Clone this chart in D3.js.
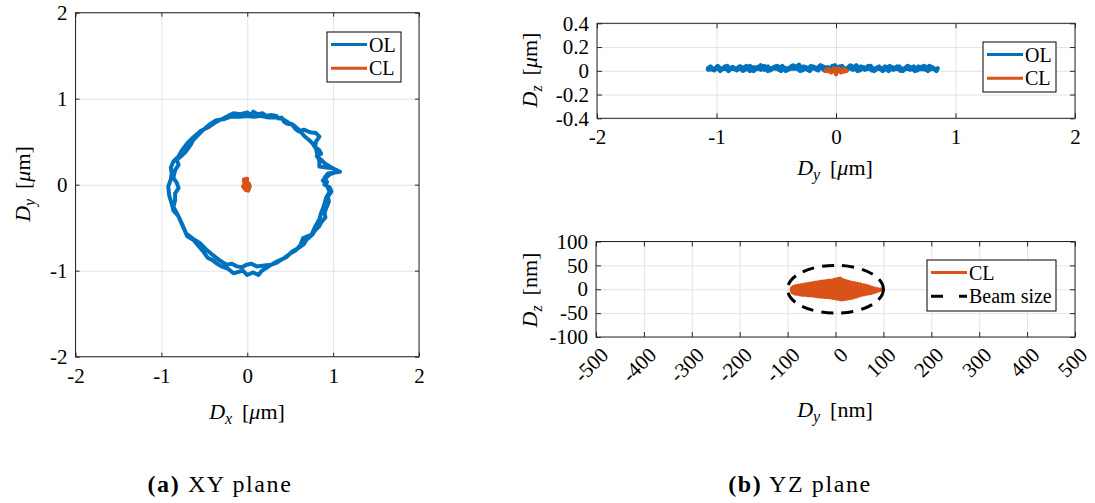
<!DOCTYPE html>
<html>
<head>
<meta charset="utf-8">
<script src="https://cdn.jsdelivr.net/npm/d3@7"></script>
<style>
  html, body { margin: 0; padding: 0; background: #fff; }
  svg { display: block; }
  svg text { font-family: 'Liberation Serif', 'Times New Roman', serif; }
</style>
</head>
<body>
<svg id="chart" width="1095" height="503"></svg>
<script>
// ---------------- DATA ----------------
// (a) XY plane, open loop trajectory [Dx, Dy] in µm (two turns)
const olXY = [
  [-0.16,0.83],[-0.08,0.82],[0,0.84],[0.04,0.81],[0.07,0.85],[0.12,0.82],[0.18,0.83],[0.22,0.80],[0.28,0.81],[0.34,0.80],[0.36,0.77],[0.40,0.78],[0.43,0.73],
  [0.46,0.71],[0.52,0.70],[0.56,0.65],[0.60,0.62],[0.66,0.64],[0.73,0.61],[0.80,0.60],[0.84,0.56],[0.80,0.50],[0.79,0.44],
  [0.84,0.40],[0.86,0.36],[0.81,0.33],[0.86,0.29],[0.90,0.25],[0.98,0.20],[1.08,0.15],[1.0,0.14],[0.94,0.13],[0.90,0.08],
  [0.93,0.03],[0.90,0.0],[0.96,-0.03],[0.98,-0.08],[0.94,-0.14],[0.95,-0.20],[0.92,-0.27],[0.90,-0.33],[0.91,-0.38],[0.86,-0.44],
  [0.84,-0.48],[0.79,-0.53],[0.76,-0.58],[0.69,-0.64],[0.66,-0.69],[0.59,-0.74],[0.52,-0.78],[0.46,-0.84],[0.40,-0.87],[0.34,-0.91],
  [0.28,-0.93],[0.22,-0.97],[0.17,-1.0],[0.13,-1.05],[0.07,-1.02],[0,-1.05],[-0.05,-1.0],[-0.09,-1.01],[-0.16,-1.03],[-0.22,-0.98],
  [-0.30,-0.95],[-0.35,-0.92],[-0.40,-0.88],[-0.46,-0.85],[-0.51,-0.78],[-0.57,-0.71],[-0.63,-0.64],[-0.70,-0.60],[-0.73,-0.53],[-0.77,-0.44],
  [-0.80,-0.37],[-0.86,-0.30],[-0.88,-0.22],[-0.91,-0.12],[-0.92,-0.02],[-0.89,0.06],[-0.88,0.13],[-0.89,0.20],[-0.86,0.27],[-0.80,0.33],
  [-0.76,0.40],[-0.70,0.48],[-0.63,0.55],[-0.55,0.62],[-0.45,0.67],[-0.38,0.72],[-0.28,0.77],[-0.22,0.80],[-0.16,0.83],
  [-0.09,0.79],[0.0,0.80],[0.07,0.79],[0.15,0.80],[0.25,0.78],[0.36,0.78],[0.42,0.76],[0.48,0.72],[0.53,0.70],[0.60,0.64],
  [0.67,0.56],[0.72,0.52],[0.76,0.48],[0.80,0.42],[0.82,0.33],[0.84,0.27],[0.84,0.21],[0.92,0.20],[1.0,0.19],[1.04,0.15],
  [0.96,0.12],[0.88,0.05],[0.92,0.0],[0.96,-0.08],[0.92,-0.15],[0.90,-0.22],[0.88,-0.28],[0.86,-0.33],[0.84,-0.40],[0.79,-0.49],
  [0.75,-0.58],[0.70,-0.60],[0.65,-0.62],[0.62,-0.70],[0.57,-0.76],[0.50,-0.80],[0.42,-0.86],[0.35,-0.89],[0.28,-0.93],[0.20,-0.94],
  [0.11,-0.95],[0.05,-0.92],[-0.01,-0.93],[-0.06,-0.96],[-0.12,-0.95],[-0.18,-0.92],[-0.24,-0.93],[-0.32,-0.88],[-0.40,-0.82],[-0.47,-0.76],
  [-0.55,-0.68],[-0.63,-0.63],[-0.71,-0.57],[-0.74,-0.50],[-0.78,-0.41],[-0.82,-0.33],[-0.86,-0.26],[-0.84,-0.18],[-0.84,-0.10],[-0.80,-0.04],
  [-0.82,0.02],[-0.86,0.08],[-0.84,0.17],[-0.80,0.23],[-0.82,0.29],[-0.76,0.34],[-0.72,0.38],[-0.66,0.46],[-0.63,0.52],[-0.57,0.58],
  [-0.51,0.64],[-0.44,0.70],[-0.36,0.75],[-0.28,0.76],[-0.20,0.79],[-0.09,0.79]
];
// (a) XY plane, closed loop [Dx, Dy] in µm
const clXY = [
  [-0.04,0.06],[0.0,0.07],[-0.01,0.03],[0.02,0.01],[0.03,-0.02],[0.01,-0.07],[-0.02,-0.06],[-0.05,-0.02],
  [-0.03,0.0],[-0.04,0.05],[0.01,0.02],[0.02,-0.05],[-0.03,-0.03],[0.0,0.0]
];
// (b) YZ plane, open loop [Dy, Dz] in µm
const olYZ = [
  [-1.07,0.02],[-1.05,0.035],[-1.02,0.01],[-0.99,0.03],[-0.97,0.0],[-0.94,0.025],[-0.91,0.04],[-0.89,0.01],[-0.86,0.03],[-0.83,0.005],
  [-0.80,0.035],[-0.78,0.02],[-0.75,0.04],[-0.72,0.0],[-0.69,0.03],[-0.66,0.015],[-0.63,0.045],[-0.60,0.01],[-0.57,0.035],[-0.55,0.005],
  [-0.52,0.03],[-0.49,0.04],[-0.46,0.0],[-0.43,0.025],[-0.40,0.01],[-0.37,0.04],[-0.34,0.02],[-0.31,0.05],[-0.28,0.005],[-0.25,0.03],
  [-0.22,0.0],[-0.19,0.035],[-0.16,0.02],[-0.13,0.045],[-0.10,0.005],[-0.07,0.03],[-0.04,0.01],[-0.01,0.045],[0.02,0.015],[0.05,0.04],
  [0.08,0.0],[0.11,0.03],[0.14,0.01],[0.17,0.045],[0.20,0.005],[0.23,0.03],[0.26,0.015],[0.29,0.04],[0.32,0.0],[0.35,0.025],
  [0.38,0.01],[0.41,0.035],[0.44,0.0],[0.47,0.03],[0.50,0.015],[0.53,0.035],[0.56,0.0],[0.59,0.03],[0.62,0.01],[0.65,0.035],
  [0.68,0.005],[0.71,0.03],[0.74,0.04],[0.77,0.0],[0.80,0.03],[0.83,0.01],[0.85,0.02],
  [0.84,0.0],[0.81,0.025],[0.78,0.04],[0.75,0.01],[0.72,0.02],[0.69,0.035],[0.66,0.0],[0.63,0.025],[0.60,0.04],[0.57,0.015],
  [0.54,0.0],[0.51,0.035],[0.48,0.01],[0.45,0.04],[0.42,0.02],[0.39,0.0],[0.36,0.035],[0.33,0.02],[0.30,0.005],[0.27,0.04],
  [0.24,0.01],[0.21,0.035],[0.18,0.0],[0.15,0.03],[0.12,0.045],[0.09,0.015],[0.06,0.0],[0.03,0.035],[0.0,0.01],[-0.03,0.04],
  [-0.06,0.0],[-0.09,0.025],[-0.12,0.04],[-0.15,0.005],[-0.18,0.02],[-0.21,0.04],[-0.24,0.01],[-0.27,0.035],[-0.30,0.0],[-0.33,0.03],
  [-0.36,0.045],[-0.39,0.015],[-0.42,0.0],[-0.45,0.04],[-0.48,0.01],[-0.51,0.035],[-0.54,0.02],[-0.57,0.0],[-0.60,0.04],[-0.63,0.01],
  [-0.66,0.03],[-0.69,0.0],[-0.72,0.04],[-0.75,0.015],[-0.78,0.0],[-0.81,0.035],[-0.84,0.01],[-0.87,0.03],[-0.90,0.0],[-0.93,0.035],
  [-0.96,0.01],[-0.99,0.04],[-1.02,0.005],[-1.05,0.02],[-1.07,0.01],
  [-1.0,0.02],[-0.8,0.018],[-0.6,0.022],[-0.4,0.02],[-0.2,0.024],[0.0,0.022],[0.2,0.02],[0.4,0.018],[0.6,0.02],[0.8,0.016]
];
// (b) YZ plane, closed loop [Dy, Dz] in µm
const clYZ = [
  [-0.09,0.0],[-0.06,0.015],[-0.04,-0.015],[-0.02,0.02],[0,-0.03],[0.02,0.02],[0.04,-0.015],[0.06,0.015],[0.09,0.0],
  [0.05,-0.01],[0,0.01],[-0.05,-0.005],[-0.09,0.0]
];
// (b) YZ plane zoom, closed loop [Dy, Dz] in nm
const clYZnm = [
  [-92,-2],[-91,3],[-90,-7],[-88,5],[-86,-9],[-84,7],[-82,-10],[-79,8],[-76,-11],[-73,9],[-70,-12],[-67,10],[-64,-12],[-61,11],
  [-58,-13],[-55,12],[-52,-13],[-49,13],[-46,-14],[-43,14],[-40,-15],[-37,15],[-34,-15],[-31,16],[-28,-16],[-25,17],[-22,-17],[-19,18],
  [-16,-17],[-13,19],[-10,-18],[-7,19],[-4,-19],[-1,21],[2,-20],[5,22],[8,-21],[10,23],[13,-22],[16,20],[19,-21],[22,18],
  [25,-20],[28,16],[31,-19],[34,14],[37,-18],[40,13],[43,-16],[46,12],[49,-14],[52,11],[55,-12],[58,9],[61,-11],[64,8],
  [67,-10],[70,6],[73,-9],[76,4],[79,-7],[82,2],[85,-5],[88,1],[91,-3],[94,0],[97,-1],[100,0],
  [98,-1],[95,0],[92,-2],[89,0],[86,-4],[83,1],[80,-6],[77,3],[74,-8],[71,5],[68,-9],[65,7],[62,-10],[59,9],
  [56,-11],[53,10],[50,-13],[47,11],[44,-15],[41,13],[38,-17],[35,14],[32,-18],[29,15],[26,-19],[23,17],[20,-20],[17,19],
  [14,-21],[11,21],[9,-21],[6,22],[3,-20],[0,20],[-3,-19],[-6,19],[-9,-18],[-12,18],[-15,-17],[-18,18],[-21,-17],[-24,17],
  [-27,-16],[-30,16],[-33,-16],[-36,15],[-39,-15],[-42,14],[-45,-14],[-48,13],[-51,-13],[-54,12],[-57,-13],[-60,11],[-63,-12],[-66,10],
  [-69,-12],[-72,9],[-75,-11],[-78,8],[-81,-10],[-84,6],[-87,-8],[-89,4],[-91,-5],[-92,0],
  [-88,-2],[-70,0],[-50,1],[-30,0],[-10,1],[5,0],[20,-1],[40,-2],[60,-1],[80,-1],[95,0]
];
// beam size [half-width along Dy, half-height along Dz] in nm
const beamSize = [100, 50];

// ticks
const ticksXY = [-2, -1, 0, 1, 2];
const ticksYZx = [-2, -1, 0, 1, 2];
const ticksYZy = [-0.4, -0.2, 0, 0.2, 0.4];
const ticksNmX = [-500, -400, -300, -200, -100, 0, 100, 200, 300, 400, 500];
const ticksNmY = [-100, -50, 0, 50, 100];
const legendA = ["OL", "CL"];
const legendB = ["OL", "CL"];
const legendC = ["CL", "Beam size"];
const captions = [["(a)", " XY plane"], ["(b)", " YZ plane"]];

// ---------------- STYLE ----------------
const FONT = "'Liberation Serif', 'Times New Roman', serif";
const BLUE = "#0072BD", ORANGE = "#D95319", AXC = "#262626", GRID = "#e3e3e3";
const TICKFS = 21;
const svg = d3.select("#chart");
svg.append("rect").attr("width", 1095).attr("height", 503).attr("fill", "#fff");

// scales
const xA = d3.scaleLinear([-2, 2], [75.5, 419]);
const yA = d3.scaleLinear([-2, 2], [356.7, 12.7]);
const xB = d3.scaleLinear([-2, 2], [597, 1075]);
const yB = d3.scaleLinear([-0.4, 0.4], [118.3, 23.3]);
const xC = d3.scaleLinear([-500, 500], [596, 1075]);
const yC = d3.scaleLinear([-100, 100], [337, 241.5]);

const fmt = d => String(d);

function grid(x, y, xt, yt) {
  const g = svg.append("g");
  const [y0, y1] = y.range(), [x0, x1] = x.range();
  g.append("g").attr("transform", `translate(0,${y0})`)
    .call(d3.axisBottom(x).tickValues(xt).tickSize(-(y0 - y1)).tickFormat(""))
    .call(s => { s.select(".domain").remove(); s.selectAll("line").attr("stroke", GRID).attr("stroke-width", 1); });
  g.append("g").attr("transform", `translate(${x0},0)`)
    .call(d3.axisLeft(y).tickValues(yt).tickSize(-(x1 - x0)).tickFormat(""))
    .call(s => { s.select(".domain").remove(); s.selectAll("line").attr("stroke", GRID).attr("stroke-width", 1); });
}

function frame(x, y, xt, yt, tl, rotate) {
  const g = svg.append("g");
  const [y0, y1] = y.range(), [x0, x1] = x.range();
  const style = s => {
    s.attr("font-family", null).attr("font-size", null);
    s.select(".domain").remove();
    s.selectAll("line").attr("stroke", AXC).attr("stroke-width", 1);
    s.selectAll("text").style("font-family", FONT).style("font-size", TICKFS + "px").attr("fill", "#000");
  };
  const bx = g.append("g").attr("transform", `translate(0,${y0})`)
    .call(d3.axisBottom(x).tickValues(xt).tickSizeInner(-tl).tickSizeOuter(0).tickPadding(11).tickFormat(fmt))
    .call(style);
  if (rotate) {
    bx.selectAll("text").attr("text-anchor", "end").attr("y", 0).attr("dy", "0.35em")
      .attr("transform", "translate(8,14) rotate(-45)");
  }
  g.append("g").attr("transform", `translate(0,${y1})`)
    .call(d3.axisTop(x).tickValues(xt).tickSizeInner(-tl).tickSizeOuter(0).tickFormat(""))
    .call(style);
  g.append("g").attr("transform", `translate(${x0},0)`)
    .call(d3.axisLeft(y).tickValues(yt).tickSizeInner(-tl).tickSizeOuter(0).tickPadding(8).tickFormat(fmt))
    .call(style);
  g.append("g").attr("transform", `translate(${x1},0)`)
    .call(d3.axisRight(y).tickValues(yt).tickSizeInner(-tl).tickSizeOuter(0).tickFormat(""))
    .call(style);
  g.append("rect").attr("x", x0).attr("y", y1).attr("width", x1 - x0).attr("height", y0 - y1)
    .attr("fill", "none").attr("stroke", AXC).attr("stroke-width", 1);
}

function series(x, y, data, color, w, dash) {
  const line = d3.line().x(d => x(d[0])).y(d => y(d[1]));
  const p = svg.append("path").attr("d", line(data)).attr("fill", "none").attr("stroke", color)
    .attr("stroke-width", w).attr("stroke-linejoin", "round").attr("stroke-linecap", "round");
  if (dash) p.attr("stroke-dasharray", dash).attr("stroke-linecap", "butt");
}

// label with math: base italic letter, subscript, then unit
function mathLabel(g, base, sub, unitPre, unitItalic, unitPost) {
  const t = g.append("text").style("font-size", "22px").attr("fill", "#000")
    .attr("text-anchor", "middle");
  t.append("tspan").attr("font-style", "italic").text(base);
  t.append("tspan").attr("font-style", "italic").style("font-size", "16px").attr("dy", 5).text(sub);
  t.append("tspan").attr("dy", -5).text("\u2009 " + unitPre);
  if (unitItalic) t.append("tspan").attr("font-style", "italic").text(unitItalic);
  t.append("tspan").text(unitPost);
  return t;
}

function legend(x0, y0, w, h, items) {
  const g = svg.append("g");
  g.append("rect").attr("x", x0).attr("y", y0).attr("width", w).attr("height", h)
    .attr("fill", "#fff").attr("stroke", "#000").attr("stroke-width", 1);
  items.forEach((it, i) => {
    const yy = y0 + 12.5 + i * 23.8;
    const l = g.append("line").attr("x1", x0 + 4).attr("x2", x0 + 40).attr("y1", yy).attr("y2", yy)
      .attr("stroke", it.color).attr("stroke-width", 3);
    if (it.dash) l.attr("stroke-dasharray", it.dash);
    g.append("text").attr("x", x0 + 42).attr("y", yy).attr("dy", "0.35em")
      .style("font-size", "20px").attr("fill", "#000").text(it.label);
  });
}

// ---------- Panel (a) ----------
grid(xA, yA, ticksXY, ticksXY);
series(xA, yA, olXY, BLUE, 4);
series(xA, yA, clXY, ORANGE, 4);
frame(xA, yA, ticksXY, ticksXY, 4, false);
legend(327, 32, 74, 50, [{label: legendA[0], color: BLUE}, {label: legendA[1], color: ORANGE}]);
mathLabel(svg.append("g").attr("transform", "translate(247,419)"), "D", "x", "[", "\u03bc", "m]");
mathLabel(svg.append("g").attr("transform", "translate(30,184) rotate(-90)"), "D", "y", "[", "\u03bc", "m]");

// ---------- Panel (b) top ----------
grid(xB, yB, ticksYZx, ticksYZy);
series(xB, yB, olYZ, BLUE, 4.5);
series(xB, yB, clYZ, ORANGE, 4);
frame(xB, yB, ticksYZx, ticksYZy, 5, false);
legend(983, 42, 73, 50, [{label: legendB[0], color: BLUE}, {label: legendB[1], color: ORANGE}]);
mathLabel(svg.append("g").attr("transform", "translate(835,175)"), "D", "y", "[", "\u03bc", "m]");
mathLabel(svg.append("g").attr("transform", "translate(537,70) rotate(-90)"), "D", "z", "[", "\u03bc", "m]");

// ---------- Panel (b) bottom ----------
grid(xC, yC, ticksNmX, ticksNmY);
series(xC, yC, clYZnm, ORANGE, 3.5);
svg.append("ellipse")
  .attr("cx", xC(0)).attr("cy", yC(0))
  .attr("rx", xC(beamSize[0]) - xC(0)).attr("ry", yC(0) - yC(beamSize[1]))
  .attr("fill", "none").attr("stroke", "#000").attr("stroke-width", 3).attr("stroke-dasharray", "12,8");
frame(xC, yC, ticksNmX, ticksNmY, 5, true);
legend(927, 260, 129, 51, [{label: legendC[0], color: ORANGE}, {label: legendC[1], color: "#000", dash: "12,16"}]);
mathLabel(svg.append("g").attr("transform", "translate(835,417)"), "D", "y", "[", "", "nm]");
mathLabel(svg.append("g").attr("transform", "translate(537,290) rotate(-90)"), "D", "z", "[", "", "nm]");

// ---------- Captions ----------
[[220, captions[0]], [800, captions[1]]].forEach(([cx, c]) => {
  const t = svg.append("text").attr("x", cx).attr("y", 492).attr("text-anchor", "middle")
    .style("font-size", "24px").style("letter-spacing", "1.6px").attr("fill", "#000");
  t.append("tspan").attr("font-weight", "bold").text(c[0]);
  t.append("tspan").text(c[1]);
});
</script>
</body>
</html>
